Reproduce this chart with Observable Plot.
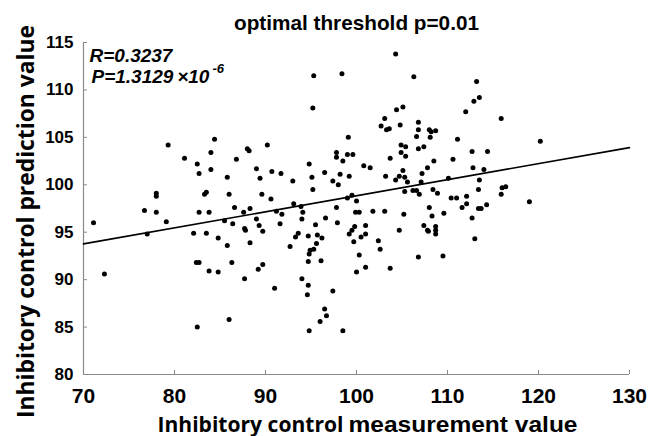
<!DOCTYPE html>
<html><head><meta charset="utf-8">
<script src="https://cdn.jsdelivr.net/npm/d3@7"></script>
<script src="https://cdn.jsdelivr.net/npm/@observablehq/plot@0.6"></script>
<style>body{margin:0;background:#fff} svg{display:block}</style>
</head><body><div id="chart"></div>
<script>
const title = "optimal threshold p=0.01";
const xLabelA = "Inhibitory control";
const xLabelB = "measurement value";
const yLabel = "Inhibitory control prediction value";
const statR = "R=0.3237";
const statP = "P=1.3129\u2009\u00d710";
const statPexp = "-6";
const xTicks = [70, 80, 90, 100, 110, 120, 130];
const yTicks = [80, 85, 90, 95, 100, 105, 110, 115];
const fitX = [70, 130];
const fitY = [93.77, 103.92];
// [measurement, prediction]
const samples = [
[79.3,104.2],[81.1,102.8],[82.5,102.2],[82.7,101.2],[84.0,103.4],[84.4,104.8],[84.0,101.6],[78.0,99.1],[78.0,98.8],[83.3,99.0],[83.5,99.2],[85.8,100.8],[86.8,102.7],[88.0,103.8],[88.2,103.6],[89.0,101.7],[89.4,100.7],[86.0,99.0],[86.6,97.6],[88.3,97.5],[76.7,97.3],[78.0,97.1],[82.7,97.1],[83.8,97.1],[87.6,97.1],[89.0,96.4],
[71.1,96.0],[72.3,90.6],[77.0,94.8],[79.1,96.1],[82.1,94.9],[82.4,91.8],[82.7,91.8],[82.5,85.0],[83.5,94.9],[83.8,90.9],[84.8,94.4],[84.8,90.8],[85.5,96.2],[85.8,93.6],[86.3,91.8],[86.0,85.8],[86.4,95.9],[87.7,95.4],[87.8,95.2],[88.3,93.9],[87.7,90.1],[89.2,91.1],[89.3,95.7],
[90.2,104.2],[90.7,101.4],[91.7,101.2],[93.0,100.4],[93.1,98.0],[94.8,102.2],[95.1,100.8],[95.2,99.5],[95.3,111.5],[95.2,108.1],[96.5,101.3],[89.6,99.0],[90.6,98.5],[91.2,97.2],[91.8,96.9],[93.9,97.7],[94.1,97.1],[94.0,96.4],[96.6,96.5],
[104.3,113.8],[98.4,111.7],[106.3,111.4],[104.4,107.9],[105.1,108.2],[103.1,107.0],[102.7,106.2],[103.3,105.8],[103.6,105.9],[104.8,106.3],[106.8,106.6],[106.8,105.8],[106.6,105.1],[108.0,105.8],[108.2,105.6],[108.7,105.7],[108.1,105.0],[99.1,105.0],[104.9,104.2],[105.4,104.0],[106.8,103.8],[107.4,104.0],[104.9,103.4],[105.4,103.0],[97.8,103.4],[97.8,102.9],[99.0,103.2],[99.6,103.2],[98.5,102.5],[103.7,102.8],[108.5,102.5],[100.8,102.0],[101.5,101.8],[107.8,101.8],[98.2,101.1],[99.2,100.9],[105.1,101.5],[103.2,100.9],[104.3,100.5],[104.7,100.9],[105.3,100.8],[105.6,100.3],[107.2,101.2],[107.1,100.3],[108.4,99.5],[108.9,99.1],[110.1,100.7],[97.4,100.4],[98.0,100.0],[99.0,98.6],[99.5,98.9],[100.0,98.3],[105.3,99.3],[106.2,99.4],[106.6,99.4],[106.9,99.0],[97.8,97.6],[108.0,97.6],
[113.2,110.9],[113.5,109.2],[112.9,108.8],[112.0,107.7],[115.9,107.0],[111.1,104.8],[120.2,104.6],[112.7,103.5],[114.4,103.5],[110.6,102.7],[112.8,101.8],[114.0,101.6],[113.5,100.5],[113.4,99.5],[116.4,99.8],[116.0,99.7],[115.9,99.0],[110.4,98.6],[111.0,98.6],[112.1,98.8],[112.1,98.0],[111.6,97.6],[113.4,97.5],[113.7,97.5],[114.3,97.9],[119.0,98.2],
[109.6,97.0],[112.7,96.5],[113.0,94.3],[109.5,92.5],
[99.9,97.1],[100.3,97.1],[101.8,97.2],[103.1,97.2],[105.2,96.9],[108.3,96.7],[89.7,95.1],[91.6,95.9],[95.5,95.8],[97.9,96.0],[93.6,94.9],[93.3,94.5],[92.7,93.5],[94.7,94.6],[95.7,94.7],[96.2,94.4],[95.6,93.8],[95.3,93.2],[94.9,93.1],[94.8,92.7],[94.7,91.9],[96.1,92.0],[89.7,91.6],[94.0,90.1],[94.7,89.4],[94.6,88.4],[91.0,89.1],[97.4,88.8],[96.5,86.9],[96.7,86.2],[96.0,85.6],[94.8,84.6],[98.5,84.6],[99.2,94.8],[99.5,95.2],[99.8,95.6],[99.7,94.0],[100.5,94.5],[101.0,95.7],[101.0,94.8],[102.4,94.1],[102.6,93.2],[100.3,92.6],[100.0,90.8],[101.0,91.3],[103.7,91.2],[104.7,95.2],[107.4,95.7],[107.8,95.2],[107.9,95.1],[108.7,95.6],[108.7,95.2],[108.7,94.8],[106.8,92.4]
];

const W = 659, H = 436, ML = 83, MR = 30, MT = 42, MB = 62;
const plotW = W - ML - MR, plotH = H - MT - MB;
const gray = "#8a8a8a";
const fit = fitX.map((x, i) => ({x, y: fitY[i]}));
const sans = "'Liberation Sans', Arial, sans-serif";
const humanist = "'Open Sans', 'Noto Sans', sans-serif";

const chart = Plot.plot({
  width: W, height: H,
  marginLeft: ML, marginRight: MR, marginTop: MT, marginBottom: MB,
  style: {fontFamily: sans, background: "#fff", color: "#000", overflow: "visible"},
  x: {domain: [70, 130]},
  y: {domain: [80, 115]},
  marks: [
    Plot.ruleY([80], {stroke: gray, strokeWidth: 1.2}),
    Plot.ruleX([70], {stroke: gray, strokeWidth: 1.2}),
    Plot.tickX(xTicks, {x: d => d, stroke: gray, insetTop: plotH - 4}),
    Plot.tickY(yTicks, {y: d => d, stroke: gray, insetRight: plotW - 4}),
    Plot.axisX({ticks: xTicks, tickSize: 0, tickPadding: 14, fontSize: 21, fontWeight: "bold", label: null, fill: "#000"}),
    Plot.axisY({ticks: yTicks, tickSize: 0, tickPadding: 10, fontSize: 17, fontWeight: "bold", label: null, fill: "#000"}),
    Plot.line(fit, {x: "x", y: "y", stroke: "#000", strokeWidth: 1.6}),
    Plot.dot(samples, {x: d => d[0], y: d => d[1], r: 2.5, fill: "#000", stroke: "none"}),
    Plot.text([title], {text: d => d, frameAnchor: "top", dy: -13, lineAnchor: "bottom", textAnchor: "middle", fontSize: 21, fontWeight: "bold"}),
    Plot.text([statR], {text: d => d, frameAnchor: "top-left", dx: 6, dy: 19, lineAnchor: "bottom", textAnchor: "start", fontSize: 19, fontWeight: "bold", fontStyle: "italic"}),
    Plot.text([statP], {text: d => d, frameAnchor: "top-left", dx: 8, dy: 40, lineAnchor: "bottom", textAnchor: "start", fontSize: 19, fontWeight: "bold", fontStyle: "italic"}),
    Plot.text([statPexp], {text: d => d, frameAnchor: "top-left", dx: 129, dy: 30, lineAnchor: "bottom", textAnchor: "start", fontSize: 13, fontWeight: "bold", fontStyle: "italic"}),
    Plot.text([xLabelA], {text: d => d, frameAnchor: "bottom-left", dx: 260, dy: 57, lineAnchor: "bottom", textAnchor: "end", fontSize: 21, fontWeight: "bold", fontFamily: humanist}),
    Plot.text([xLabelB], {text: d => d, frameAnchor: "bottom-left", dx: 265, dy: 57, lineAnchor: "bottom", textAnchor: "start", fontSize: 21.5, fontWeight: "bold"}),
    Plot.text([yLabel], {text: d => d, frameAnchor: "left", dx: -50, dy: 13, rotate: -90, lineAnchor: "bottom", textAnchor: "middle", fontSize: 23, fontWeight: "bold", fontFamily: humanist})
  ]
});
// fit the widths of the long labels to the reference
const widths = new Map([[title, 245], [xLabelA, 186], [xLabelB, 229], [yLabel, 393]]);
d3.select(chart).selectAll("text").each(function() {
  const t = this.textContent;
  if (widths.has(t)) {
    d3.select(this).attr("textLength", widths.get(t)).attr("lengthAdjust", "spacingAndGlyphs");
  }
});
document.getElementById("chart").appendChild(chart);
</script>
</body></html>
